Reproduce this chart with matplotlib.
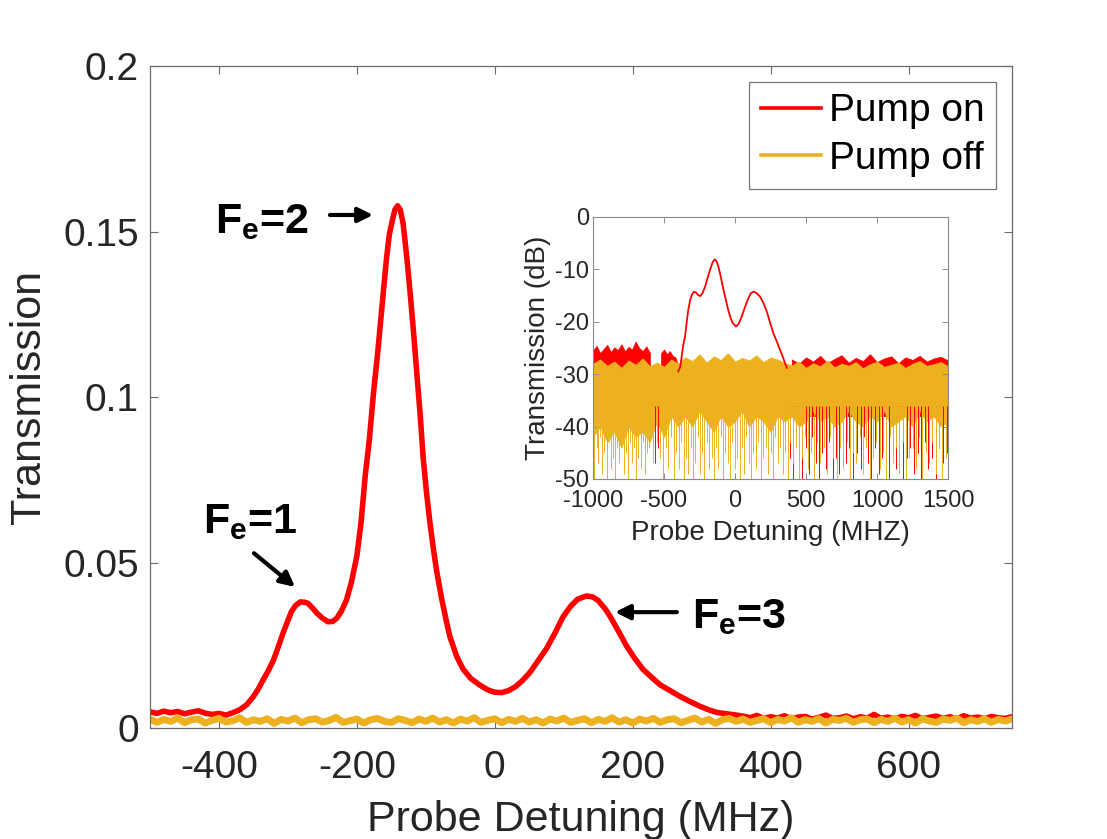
import numpy as np
import matplotlib
matplotlib.use('Agg')
import matplotlib.pyplot as plt

plt.rcParams['font.family'] = ['Liberation Sans', 'DejaVu Sans']
plt.rcParams['mathtext.fontset'] = 'custom'
plt.rcParams['mathtext.bf'] = 'Liberation Sans:bold'
plt.rcParams['mathtext.rm'] = 'Liberation Sans'
plt.rcParams['mathtext.it'] = 'Liberation Sans:italic'
plt.rcParams['axes.unicode_minus'] = False

RED = '#ff0000'
YEL = '#edb120'

# ---- main plot data (linear transmission) ----
red_left_x = [-500, -490, -480, -470, -460, -450, -440, -430, -420, -410, -400, -390]
red_left_y = [0.0049, 0.0044, 0.0051, 0.0046, 0.0050, 0.0043, 0.0048, 0.0052, 0.0045, 0.0041, 0.0044, 0.0039]

red_peak_x = [-380, -370, -360, -350, -343, -336, -328, -321, -314, -307, -300, -295, -289, -282,
              -276, -271, -264, -258, -250, -242, -235, -229, -222, -215, -208, -200, -194, -188,
              -182, -176, -170, -166, -161, -157, -153, -149, -145, -141, -137, -133, -128, -123,
              -118, -113, -108, -104, -99, -94, -89, -84, -77, -70, -65, -55, -46, -35, -22, -10,
              0, 10, 20, 30, 40, 51, 60, 75, 88, 99, 110, 120, 133, 142, 150, 160, 167, 180, 191,
              203, 215, 228, 240, 255, 268, 283, 297, 310, 322, 340, 350]
red_peak_y = [0.0046, 0.0055, 0.0070, 0.0095, 0.0118, 0.0145, 0.0175, 0.0205, 0.0245, 0.0287, 0.0325,
              0.0351, 0.0370, 0.0381, 0.0380, 0.0377, 0.0362, 0.0347, 0.0332, 0.0321, 0.0322, 0.0332,
              0.0355, 0.0387, 0.0440, 0.0520, 0.0620, 0.0760, 0.0870, 0.1010, 0.1130, 0.1220, 0.1330,
              0.1420, 0.1490, 0.1530, 0.1565, 0.1578, 0.1565, 0.1525, 0.1430, 0.1320, 0.1200, 0.1070,
              0.0940, 0.0820, 0.0710, 0.0620, 0.0540, 0.0470, 0.0390, 0.0320, 0.0275, 0.0215, 0.0178,
              0.0150, 0.0130, 0.0115, 0.0108, 0.0107, 0.0113, 0.0125, 0.0143, 0.0168, 0.0195, 0.0240,
              0.0290, 0.0336, 0.0368, 0.0389, 0.0399, 0.0396, 0.0385, 0.0360, 0.0338, 0.0290, 0.0248,
              0.0210, 0.0177, 0.0152, 0.0130, 0.0112, 0.0096, 0.0080, 0.0066, 0.0055, 0.0047, 0.0042,
              0.0039]

red_tail_x = np.arange(360, 751, 10)
red_tail_y = [0.0036, 0.0031, 0.0038, 0.0029, 0.0034, 0.0030, 0.0037, 0.0028, 0.0033, 0.0035,
              0.0027, 0.0032, 0.0039, 0.0029, 0.0031, 0.0036, 0.0028, 0.0034, 0.0030, 0.0041,
              0.0029, 0.0033, 0.0027, 0.0035, 0.0031, 0.0038, 0.0028, 0.0032, 0.0036, 0.0029,
              0.0034, 0.0027, 0.0037, 0.0030, 0.0033, 0.0028, 0.0035, 0.0031, 0.0029, 0.0034]

off_x = np.arange(-500, 751, 10)
off_y = [0.0027, 0.0017, 0.0026, 0.0020, 0.0030, 0.0016, 0.0025, 0.0027, 0.0015, 0.0023,
         0.0029, 0.0018, 0.0022, 0.0031, 0.0017, 0.0025, 0.0020, 0.0028, 0.0014, 0.0026,
         0.0021, 0.0030, 0.0016, 0.0025, 0.0028, 0.0018, 0.0023, 0.0032, 0.0017, 0.0022,
         0.0027, 0.0015, 0.0025, 0.0029, 0.0020, 0.0017, 0.0028, 0.0023, 0.0016, 0.0027,
         0.0020, 0.0030, 0.0018, 0.0025, 0.0015, 0.0027, 0.0021, 0.0031, 0.0017, 0.0023,
         0.0028, 0.0016, 0.0026, 0.0020, 0.0029, 0.0018, 0.0025, 0.0015, 0.0027, 0.0021,
         0.0030, 0.0017, 0.0023, 0.0028, 0.0016, 0.0026, 0.0020, 0.0031, 0.0018, 0.0025,
         0.0015, 0.0027, 0.0021, 0.0029, 0.0017, 0.0025, 0.0028, 0.0016, 0.0023, 0.0030,
         0.0018, 0.0026, 0.0014, 0.0025, 0.0029, 0.0020, 0.0027, 0.0017, 0.0023, 0.0028,
         0.0016, 0.0026, 0.0021, 0.0031, 0.0017, 0.0025, 0.0020, 0.0028, 0.0015, 0.0026,
         0.0023, 0.0029, 0.0017, 0.0025, 0.0027, 0.0016, 0.0026, 0.0020, 0.0030, 0.0018,
         0.0025, 0.0015, 0.0028, 0.0021, 0.0017, 0.0027, 0.0023, 0.0030, 0.0016, 0.0025,
         0.0020, 0.0028, 0.0017, 0.0026, 0.0021, 0.0027]

red_x = list(red_left_x) + list(red_peak_x) + list(red_tail_x)
red_y = list(red_left_y) + list(red_peak_y) + list(red_tail_y)

# ---- inset data (dB) ----
env_x = np.arange(-1000, 1501, 50)
off_top_db = [-28.0, -27.2, -28.4, -27.6, -28.8, -27.4, -28.2, -27.0, -28.5,
              -27.8, -28.6, -27.2, -28.0,
              -26.8, -27.5, -26.2, -27.8, -26.6, -27.3, -26.0, -27.6, -26.9, -27.4, -26.4, -27.7, -26.8, -27.2, -27.9,
              -28.3, -27.6, -28.8, -27.9, -28.5, -27.4, -28.7, -28.0, -28.4, -27.7, -28.9, -28.1,
              -27.6, -28.6, -28.2, -27.8, -28.8, -28.0, -27.5, -28.4, -28.1, -27.7, -28.5]
off_low_db = [-42, -40, -43, -41, -44, -40, -42, -41, -43,
              -39, -42, -38, -40,
              -38, -40, -37, -39, -41, -38, -40, -39, -37, -40, -38, -39, -41, -38, -39,
              -38, -40, -39, -37, -39, -38, -40, -39, -37, -39, -40, -38,
              -39, -37, -40, -39, -38, -40, -37, -39, -38, -40, -39]

off_spike_x = [-990, -975, -962, -948, -935, -920, -905, -890, -875, -860, -845, -830, -815, -800,
               -785, -770, -755, -740, -725, -710, -695, -680, -665, -650, -635, -620, -605, -590,
               -575, -550, -530, -505, -485, -470, -450, -430, -415, -395, -380, -362, -345, -330,
               -312, -298, -280, -262, -248, -230, -215, -198, -182, -165, -150, -132, -118, -100,
               -85, -68, -52, -35, -18, 0, 15, 32, 48, 65, 80, 98, 115, 130, 148, 165, 182, 198,
               215, 232, 250, 268, 285, 300, 318, 335, 355, 372, 390, 410, 430, 452, 470, 492, 515,
               535, 558, 580, 600, 625, 648, 670, 692, 715, 738, 760, 785, 808, 830, 855, 878, 900,
               925, 948, 970, 995, 1018, 1040, 1065, 1088, 1110, 1135, 1158, 1180, 1205, 1228,
               1250, 1275, 1298, 1320, 1345, 1368, 1390, 1415, 1438, 1460, 1485]
off_spike_db = [-50, -44, -47, -42, -49, -45, -50, -43, -48, -46, -50, -44, -47, -42,
                -49, -45, -50, -43, -47, -44, -50, -46, -48, -43, -49, -45, -44, -42,
                -47, -43, -46, -50, -44, -48, -42, -50, -45, -48, -43, -50, -46, -49,
                -44, -50, -47, -42, -49, -45, -50, -43, -48, -46, -50, -44, -48, -42,
                -50, -45, -47, -50, -43, -48, -46, -50, -44, -49, -42, -47, -50, -45, -48, -43, -50, -46,
                -44, -49, -45, -50, -42, -47, -44, -49, -45, -50, -43, -47, -44, -50, -46, -42, -48,
                -45, -50, -43, -47, -44, -49, -42, -46, -50, -44, -48, -43, -50, -45, -47, -42, -49,
                -44, -50, -46, -43, -48, -45, -50, -42, -47, -44, -49, -43, -50, -46,
                -44, -48, -42, -50, -45, -47, -43, -49, -44, -50, -46]

on_left_x = [-1000, -975, -950, -925, -900, -875, -850, -825, -800, -775, -750, -725, -700, -675, -650, -625, -600]
on_left_top = [-25.5, -24.6, -26.0, -25.2, -24.4, -25.8, -24.9, -25.4, -24.3, -25.7, -24.8, -25.3,
               -23.8, -25.0, -25.6, -24.7, -25.9]
on_mid_x = [-520, -500, -480, -460, -440, -420, -400]
on_mid_top = [-26.0, -25.3, -26.2, -25.6, -26.5, -26.8, -28.5]

on_peak_x = [-400, -385, -375, -365, -352, -340, -329, -317, -305, -290, -275, -260, -246, -230, -211,
             -195, -176, -160, -150, -141, -130, -118, -106, -90, -70, -52, -35, -15, 7, 25, 47, 70,
             94, 110, 129, 150, 176, 200, 223, 245, 270, 295, 317, 335, 352, 365]
on_peak_db = [-29.5, -28.5, -26.5, -24.5, -22.8, -20.0, -17.7, -16.0, -14.9, -14.3, -14.4, -14.9, -15.1,
              -14.6, -13.3, -11.8, -10.1, -8.8, -8.3, -8.1, -8.5, -9.4, -10.7, -12.8, -15.2, -17.3,
              -19.0, -20.3, -20.9, -20.4, -19.0, -17.2, -15.5, -14.6, -14.25, -14.5, -15.2, -16.4,
              -18.0, -20.0, -22.2, -23.8, -25.4, -26.6, -27.9, -28.8]

on_right_x = np.arange(400, 1501, 50)
on_right_top = [-27.2, -28.0, -26.8, -27.6, -26.5, -27.9, -27.1, -26.4, -27.8, -26.9, -27.5, -26.2,
                -27.7, -27.0, -26.6, -27.9, -26.8, -27.3, -26.5, -27.6, -27.0, -26.7, -27.4]

on_spike_x = [-565, -552, -540, 385, 405, 428, 448, 475, 498, 520, 545, 568, 590, 615, 640, 662, 688,
              710, 735, 758, 782, 805, 832, 858, 885, 910, 935, 960, 985, 1012, 1035, 1060, 1085,
              1110, 1132, 1158, 1185, 1210, 1235, 1262, 1288, 1312, 1338, 1362, 1388, 1412, 1438,
              1462, 1490]
on_spike_db = [-47, -41, -44, -46, -50, -41, -47, -50, -44, -49, -42, -47, -50, -45, -48, -43, -50,
               -46, -49, -42, -47, -44, -50, -45, -48, -42, -47, -50, -44, -49, -46, -43, -50,
               -45, -48, -42, -50, -46, -44, -49, -45, -50, -43, -48, -46, -50, -44,
               -47, -45]

# ---- figure ----
fig = plt.figure(figsize=(11.07, 8.39), dpi=100)
ax = fig.add_axes([0.1355, 0.1323, 0.7787, 0.789])

ax.plot(red_x, red_y, color=RED, lw=4.0, label='Pump on', solid_joinstyle='round')
ax.plot(off_x, off_y, color=YEL, lw=5.0, label='Pump off', solid_joinstyle='round')

ax.set_xlim(-500, 750)
ax.set_ylim(0, 0.2)
ax.set_xticks([-400, -200, 0, 200, 400, 600])
ax.set_yticks([0, 0.05, 0.1, 0.15, 0.2])
ax.set_yticklabels(['0', '0.05', '0.1', '0.15', '0.2'])
ax.tick_params(direction='in', top=True, right=True, length=6, width=0.8,
               color='#6b6b6b', labelsize=28, labelcolor='#262626')
ax.tick_params(axis='x', pad=16)
ax.tick_params(axis='y', pad=8)
for s in ax.spines.values():
    s.set_color('#6b6b6b')
    s.set_linewidth(0.9)
ax.set_xlabel('Probe Detuning (MHz)', fontsize=31, color='#262626', labelpad=10)
ax.set_ylabel('Transmission', fontsize=31, color='#262626', labelpad=10)

leg = ax.legend(loc='upper right', fontsize=28, frameon=True, fancybox=False, edgecolor='#555555',
                handlelength=1.55, handletextpad=0.2, borderaxespad=0.4, labelspacing=0.3,
                borderpad=0.3)
leg.get_frame().set_linewidth(0.9)
for ln in leg.get_lines():
    ln.set_linewidth(2.6)

arrow = dict(arrowstyle='-|>', color='black', lw=3, mutation_scale=22, shrinkA=0, shrinkB=0)
ax.text(-405.7, 0.1495, 'F$_{\\mathbf{e}}$=2', fontsize=31, fontweight='bold', ha='left', va='baseline')
ax.annotate('', xy=(-176.6, 0.155), xytext=(-239, 0.155), arrowprops=arrow)
ax.text(-423, 0.0589, 'F$_{\\mathbf{e}}$=1', fontsize=31, fontweight='bold', ha='left', va='baseline')
ax.annotate('', xy=(-289.7, 0.0426), xytext=(-349.2, 0.0528), arrowprops=arrow)
ax.text(286, 0.0302, 'F$_{\\mathbf{e}}$=3', fontsize=31, fontweight='bold', ha='left', va='baseline')
ax.annotate('', xy=(174.3, 0.035), xytext=(264, 0.035), arrowprops=arrow)

# ---- inset ----
axi = fig.add_axes([0.5357, 0.4291, 0.3207, 0.3123])
axi.fill_between(on_left_x, -30.5, on_left_top, color=RED, lw=0.6, edgecolor=RED)
axi.fill_between(on_mid_x, -30.5, on_mid_top, color=RED, lw=0.6, edgecolor=RED)
axi.fill_between(on_right_x, -38, on_right_top, color=RED, lw=0.6, edgecolor=RED)
axi.vlines(on_spike_x, on_spike_db, -36, color=RED, lw=0.7)
axi.plot(on_peak_x, on_peak_db, color=RED, lw=1.3)
axi.fill_between(env_x, off_low_db, off_top_db, color=YEL, lw=0.6, edgecolor=YEL)
axi.vlines(off_spike_x, off_spike_db, -36, color=YEL, lw=0.7)

axi.set_xlim(-1000, 1500)
axi.set_ylim(-50, 0)
axi.set_xticks([-1000, -500, 0, 500, 1000, 1500])
axi.set_yticks([0, -10, -20, -30, -40, -50])
axi.tick_params(direction='in', top=True, right=True, length=4, width=0.7,
                color='#8a8a8a', labelsize=17, labelcolor='#262626')
axi.tick_params(axis='x', pad=8)
axi.tick_params(axis='y', pad=3)
for s in axi.spines.values():
    s.set_color('#8a8a8a')
    s.set_linewidth(0.8)
axi.set_xlabel('Probe Detuning (MHZ)', fontsize=20, color='#262626', labelpad=6)
axi.set_ylabel('Transmission (dB)', fontsize=20, color='#262626', labelpad=3)

fig.savefig('out.png', dpi=100, facecolor='white')
